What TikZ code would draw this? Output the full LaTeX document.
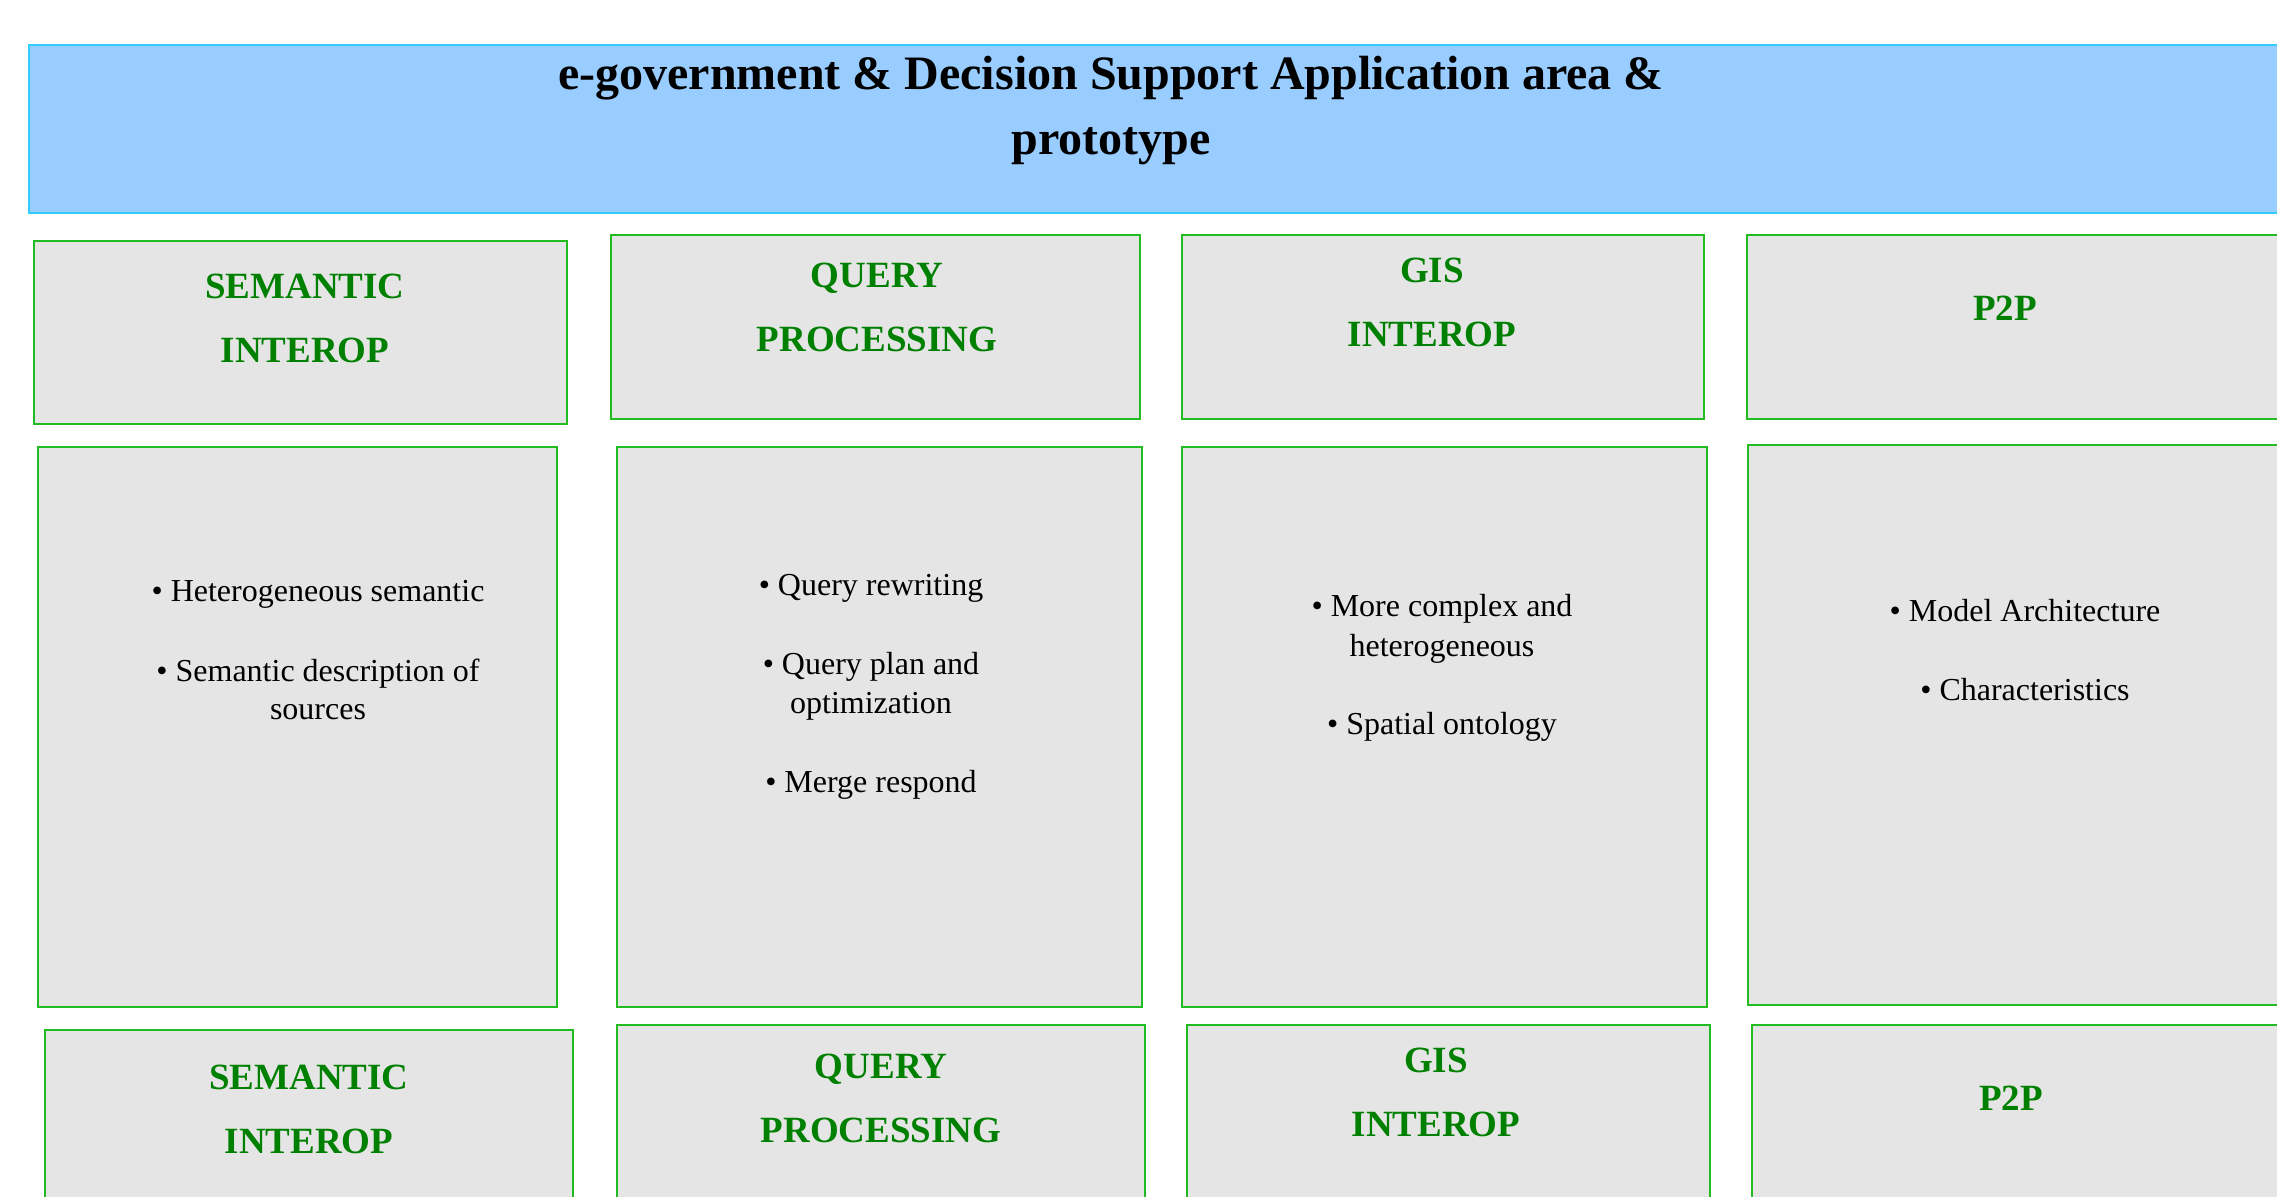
\documentclass[tikz,border=0pt]{standalone}
\usepackage{fontspec}
\setmainfont{Liberation Serif}

\definecolor{headblue}{HTML}{99CCFF}
\definecolor{headline}{HTML}{33CCFF}
\definecolor{boxgray}{HTML}{E5E5E5}
\definecolor{boxline}{HTML}{22BB22}
\definecolor{topicgreen}{HTML}{008000}

\begin{document}
\begin{tikzpicture}[x=0.5pt,y=-0.5pt,
    box/.style={rectangle,draw=boxline,fill=boxgray,line width=1pt,anchor=north west,inner sep=0pt},
    topic/.style={anchor=base,align=center,text=topicgreen,font=\bfseries\fontsize{18.5}{32}\selectfont},
    items/.style={anchor=base,align=center,font=\fontsize{16}{19.5}\selectfont}]
    \path[use as bounding box,clip] (0,0) rectangle (2277,1197);

    % Header
    \node[rectangle,draw=headline,fill=headblue,line width=1pt,anchor=north west,minimum width=1140pt,minimum height=84pt] (head) at (28,44) {};
    \node[anchor=base,align=center,font=\bfseries\fontsize{24}{32.5}\selectfont] (title) at (1111,155) {e-government \& Decision Support Application area \&\\prototype};

    % Top row
    \node[box,minimum width=266.5pt,minimum height=91.5pt] (semtop) at (33,240) {};
    \node[box,minimum width=264.5pt,minimum height=92pt] (qrytop) at (610,234) {};
    \node[box,minimum width=261pt,minimum height=92pt] (gistop) at (1181,234) {};
    \node[box,minimum width=280pt,minimum height=92pt] (p2ptop) at (1746,234) {};
    \node[topic] (semtoplbl) at (305,363) {SEMANTIC\\INTEROP};
    \node[topic] (qrytoplbl) at (877,352) {QUERY\\PROCESSING};
    \node[topic] (gistoplbl) at (1432,347) {GIS\\INTEROP};
    \node[topic] (p2ptoplbl) at (2005,321) {P2P};

    % Middle row
    \node[box,minimum width=259.5pt,minimum height=280pt] (semmid) at (37,446) {};
    \node[box,minimum width=262.5pt,minimum height=280pt] (qrymid) at (616,446) {};
    \node[box,minimum width=262.5pt,minimum height=280pt] (gismid) at (1181,446) {};
    \node[box,minimum width=280pt,minimum height=280pt] (p2pmid) at (1747,444) {};
    \node[items] (semitems) at (318,720) {\textbullet\ Heterogeneous semantic\\[20pt]\textbullet\ Semantic description of\\sources};
    \node[items] (qryitems) at (871,792) {\textbullet\ Query rewriting\\[20pt]\textbullet\ Query plan and\\optimization\\[20pt]\textbullet\ Merge respond};
    \node[items] (gisitems) at (1442,735) {\textbullet\ More complex and\\heterogeneous\\[20pt]\textbullet\ Spatial ontology};
    \node[items] (p2pitems) at (2025,701) {\textbullet\ Model Architecture\\[20pt]\textbullet\ Characteristics};

    % Bottom row
    \node[box,minimum width=264pt,minimum height=91.5pt] (sembot) at (44,1029) {};
    \node[box,minimum width=264pt,minimum height=92pt] (qrybot) at (616,1024) {};
    \node[box,minimum width=261.5pt,minimum height=92pt] (gisbot) at (1186,1024) {};
    \node[box,minimum width=280pt,minimum height=92pt] (p2pbot) at (1751,1024) {};
    \node[topic] (sembotlbl) at (309,1153) {SEMANTIC\\INTEROP};
    \node[topic] (qrybotlbl) at (881,1142) {QUERY\\PROCESSING};
    \node[topic] (gisbotlbl) at (1436,1136) {GIS\\INTEROP};
    \node[topic] (p2pbotlbl) at (2011,1110) {P2P};
\end{tikzpicture}
\end{document}
